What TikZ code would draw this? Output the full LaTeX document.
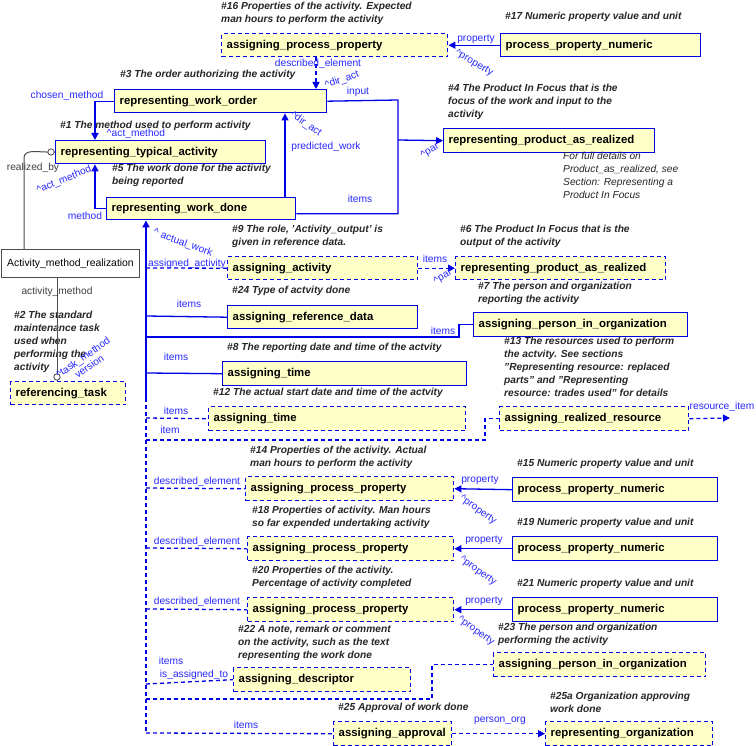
\documentclass[tikz,border=0pt]{standalone}
\usepackage{fontspec}
\setmainfont{Liberation Sans}
\usetikzlibrary{arrows.meta,calc}
\definecolor{bx}{RGB}{0,0,230}
\definecolor{lb}{RGB}{40,40,255}
\definecolor{fy}{RGB}{255,255,200}
\tikzset{
 x=1pt,y=-1pt,
 sbox/.style={draw=bx,line width=1.4pt,fill=fy,anchor=north west,inner xsep=5pt,inner ysep=0pt,font=\fontsize{11.4}{13}\selectfont\bfseries,align=left},
 dbox/.style={sbox,dash pattern=on 4pt off 3pt},
 note/.style={anchor=north west,inner sep=0pt,align=left,font=\fontsize{10.2}{13}\selectfont\bfseries\itshape,text=black!85},
 lab/.style={inner sep=1pt,font=\fontsize{10.2}{11}\selectfont,text=lb},
 con/.style={draw=bx,line width=1.3pt},
 dcon/.style={con,dash pattern=on 4pt off 3pt},
 arr/.style={-{Triangle[length=7pt,width=7pt]}},
 blk/.style={draw=black!70,line width=1pt},
}
\newcommand{\bx}[6]{\node[#1,minimum width=#4pt,minimum height=#5pt,text width=#4pt-10pt] (#2) at (#3) {#6};}
\begin{document}
\begin{tikzpicture}
\useasboundingbox (0,0) rectangle (756,746);
\fill[white] (0,0) rectangle (756,746);
% boxes
\bx{dbox}{app16}{221,33}{226}{23}{assigning\_process\_property}
\bx{sbox}{ppn17}{500,33}{200}{23}{process\_property\_numeric}
\bx{sbox}{rwo}{114,89}{212}{23}{representing\_work\_order}
\bx{sbox}{rta}{55,140}{210}{23}{representing\_typical\_activity}
\bx{sbox}{rwd}{106,197}{189}{22}{representing\_work\_done}
\bx{sbox}{rpar4}{443,128}{211}{24}{representing\_product\_as\_realized}
\node[draw=black!70,line width=1pt,fill=white,anchor=north west,minimum width=138pt,minimum height=28pt,inner xsep=2pt,font=\fontsize{10.4}{11}\selectfont] (amr) at (1,249) {Activity\_method\_realization};
\bx{dbox}{rtask}{10,381}{115}{23}{referencing\_task}
\bx{dbox}{aa}{227,256}{190}{23}{assigning\_activity}
\bx{dbox}{rpar6}{455,256}{210}{23}{representing\_product\_as\_realized}
\bx{sbox}{ard}{227,305}{190}{23}{assigning\_reference\_data}
\bx{sbox}{apio7}{473,312}{214}{24}{assigning\_person\_in\_organization}
\bx{sbox}{at8}{222,361}{244}{24}{assigning\_time}
\bx{dbox}{at12}{208,406}{257}{24}{assigning\_time}
\bx{dbox}{arr13}{499,406}{189}{24}{assigning\_realized\_resource}
\bx{dbox}{app14}{245,476}{208}{24}{assigning\_process\_property}
\bx{sbox}{ppn15}{512,477}{205}{24}{process\_property\_numeric}
\bx{dbox}{app18}{247,536}{206}{24}{assigning\_process\_property}
\bx{sbox}{ppn19}{512,536}{205}{24}{process\_property\_numeric}
\bx{dbox}{app20}{247,597}{206}{24}{assigning\_process\_property}
\bx{sbox}{ppn21}{512,597}{205}{24}{process\_property\_numeric}
\bx{dbox}{apio23}{493,652}{212}{24}{assigning\_person\_in\_organization}
\bx{dbox}{ades}{233,667}{177}{24}{assigning\_descriptor}
\bx{dbox}{aapp}{333,721}{118}{24}{assigning\_approval}
\bx{dbox}{rorg}{545,721}{167}{24}{representing\_organization}
% notes
\node[note] (n16) at (221,2) {\#16 Properties of the activity. Expected\\man hours to perform the activity};
\node[note] (n17) at (505,12) {\#17 Numeric property value and unit};
\node[note] (n3) at (120,70) {\#3 The order authorizing the activity};
\node[note] (n4) at (448,84) {\#4 The Product In Focus that is the\\focus of the work and input to the\\activity};
\node[note] (n1) at (60,121) {\#1 The method used to perform activity};
\node[note,font=\fontsize{10.2}{13}\selectfont\itshape] (nfd) at (563,152) {For full details on\\Product\_as\_realized, see\\Section: Representing a\\Product In Focus};
\node[note] (n5) at (112,164) {\#5 The work done for the activity\\being reported};
\node[note] (n9) at (232,225) {\#9 The role, 'Activity\_output' is\\given in reference data.};
\node[note] (n6) at (460,225) {\#6 The Product In Focus that is the\\output of the activity};
\node[note] (n24) at (232,286) {\#24 Type of actvity done};
\node[note] (n7) at (478,282) {\#7 The person and organization\\reporting the activity};
\node[note] (n2) at (14,311) {\#2 The standard\\maintenance task\\used when\\performing the\\activity};
\node[note] (n8) at (227,343) {\#8 The reporting date and time of the actvity};
\node[note] (n13) at (504,337) {\#13 The resources used to perform\\the actvity. See sections\\"Representing resource: replaced\\parts" and "Representing\\resource: trades used" for details};
\node[note] (n12) at (213,388) {\#12 The actual start date and time of the actvity};
\node[note] (n14) at (250,446) {\#14 Properties of the activity. Actual\\man hours to perform the activity};
\node[note] (n15) at (517,459) {\#15 Numeric property value and unit};
\node[note] (n18) at (252,506) {\#18 Properties of activity. Man hours\\so far expended undertaking activity};
\node[note] (n19) at (517,518) {\#19 Numeric property value and unit};
\node[note] (n20) at (252,566) {\#20 Properties of the activity.\\Percentage of activity completed};
\node[note] (n21) at (517,579) {\#21 Numeric property value and unit};
\node[note] (n22) at (238,625) {\#22 A note, remark or comment\\on the activity, such as the text\\representing the work done};
\node[note] (n23) at (498,623) {\#23 The person and organization\\performing the activity};
\node[note] (n25) at (338,703) {\#25 Approval of work done};
\node[note] (n25a) at (550,692) {\#25a Organization approving\\work done};
% top connectors
\draw[dcon,arr] ([xshift=95pt]app16.south west) -- ([xshift=202pt]rwo.north west);
\node[lab] (l1) at (318,64) {described\_element};
\node[lab,rotate=20] (l2) at (342,80) {\textasciicircum dir\_act};
\draw[con,arr] (ppn17.west) -- (app16.east);
\node[lab] (l3) at (476,39) {property};
\node[lab,rotate=-30] (l4) at (474,63) {\textasciicircum property};
\draw[con,arr] (rwo.west) -| ([xshift=40pt]rta.north west);
\node[lab] (l5) at (67,96) {chosen\_method};
\node[lab] (l6) at (136,134) {\textasciicircum act\_method};
\draw[con,arr] (rwd.west) -| ([xshift=40pt]rta.south west);
\node[lab] (l7) at (85,216) {method};
\node[lab,rotate=22] (l8) at (64,180) {\textasciicircum act\_method};
\draw[con,arr] ([xshift=179pt]rwd.north west) -- ([xshift=171pt]rwo.south west);
\node[lab,rotate=-35] (l9) at (306,124) {\textasciicircum dir\_act};
\node[lab] (l10) at (326,147) {predicted\_work};
\coordinate (jr) at (398,100);
\draw[con] (rwo.east) -- (jr) |- ([yshift=-5pt]rwd.east);
\draw[con,arr] (398,140) -- (rpar4.west);
\node[lab] (l11) at (358,92) {input};
\node[lab] (l12) at (360,199) {items};
\node[lab,rotate=30] (l13) at (430,151) {\textasciicircum par};
% AMR
\draw[blk] ([xshift=23pt]amr.north west) -- (24,158) to[out=90,in=180] (46,152) -- (rta.west);
\draw[black!70,fill=white,line width=0.8pt] (51,152) circle (3.2pt);
\node[lab,text=black!75] (l14) at (33,168) {realized\_by};
\draw[blk] ([xshift=56pt]amr.south west) -- ([xshift=47pt]rtask.north west);
\draw[black!70,fill=white,line width=0.8pt] (57,377) circle (3.2pt);
\node[lab,text=black!75] (l15) at (57,292) {activity\_method};
\node[lab,rotate=35,align=center] (l16) at (86,362) {\textasciicircum task\_method\\version};
% trunk
\coordinate (tk1) at (146,398);
\coordinate (tkb) at (146,733);
\draw[dcon,line width=2pt] (tk1) -- (tkb);
\draw[con,line width=2.6pt,arr] (tk1) -- ([xshift=40pt]rwd.south west);
\node[lab,rotate=-20] (l17) at (183,243) {\textasciicircum{} actual\_work};
\draw[dcon] (146,268) -- (aa.west);
\node[lab] (l18) at (187,264) {assigned\_activity};
\draw[dcon,arr] (aa.east) -- (rpar6.west);
\node[lab] (l19) at (435,259) {items};
\node[lab,rotate=30] (l20) at (443,277) {\textasciicircum par};
\draw[con] (146,316) -- (ard.west);
\node[lab] (l21) at (189,304) {items};
\draw[con] (146,337) -- (459,337) |- (apio7.west);
\node[lab] (l22) at (443,331) {items};
\draw[con] (146,373) -- (at8.west);
\node[lab] (l23) at (176,357) {items};
\draw[dcon] (146,418) -- (at12.west);
\node[lab] (l24) at (176,411) {items};
\draw[dcon] (146,440) -- (485,440) |- (arr13.west);
\node[lab] (l25) at (170,430) {item};
\draw[dcon,arr] (arr13.east) -- (730,418);
\node[lab] (l26) at (722,407) {resource\_item};
\draw[dcon] (146,488) -- (app14.west);
\node[lab] (l27) at (197,482) {described\_element};
\draw[con,arr] (ppn15.west) -- (app14.east);
\node[lab] (l28) at (480,480) {property};
\draw[dcon] (146,548) -- (app18.west);
\node[lab] (l29) at (197,542) {described\_element};
\draw[con,arr] (ppn19.west) -- (app18.east);
\node[lab] (l30) at (484,540) {property};
\draw[dcon] (146,609) -- (app20.west);
\node[lab] (l31) at (197,602) {described\_element};
\draw[con,arr] (ppn21.west) -- (app20.east);
\node[lab] (l32) at (484,601) {property};
\node[lab,rotate=-35] (l33) at (478,510) {\textasciicircum property};
\node[lab,rotate=-35] (l34) at (478,571) {\textasciicircum property};
\node[lab,rotate=-35] (l35) at (476,631) {\textasciicircum property};
\draw[dcon] (146,684) -- (ades.west);
\node[lab] (l36) at (171,661) {items};
\node[lab] (l37) at (194,675) {is\_assigned\_to};
\draw[dcon] (146,699) -- (432,699) |- (apio23.west);
\draw[dcon] (tkb) -- (aapp.west);
\node[lab] (l38) at (246,725) {items};
\draw[dcon,arr] (aapp.east) -- (rorg.west);
\node[lab] (l39) at (500,721) {person\_org};
\end{tikzpicture}
\end{document}
